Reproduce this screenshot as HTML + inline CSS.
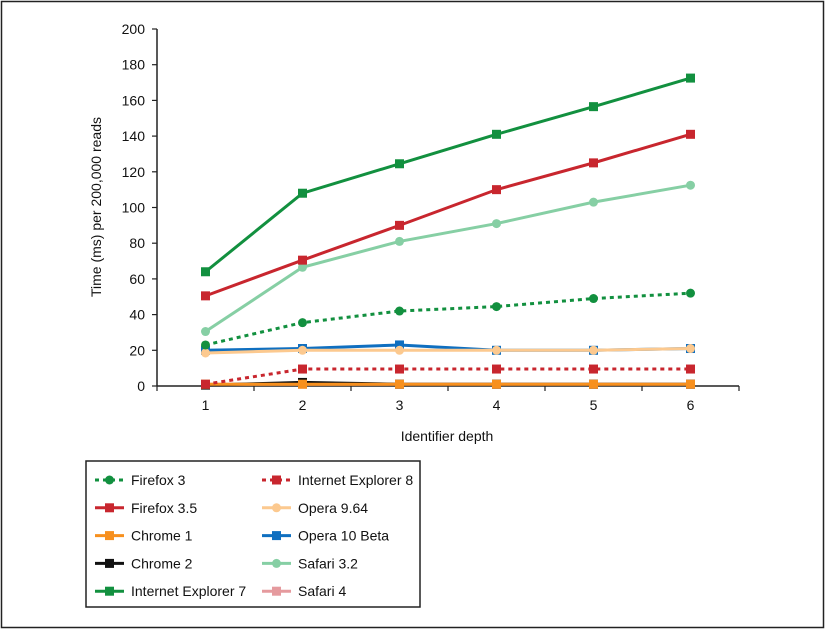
<!DOCTYPE html>
<html><head><meta charset="utf-8"><style>
html,body{margin:0;padding:0;background:#fff;}
svg text{font-family:"Liberation Sans Narrow","Liberation Sans",sans-serif;fill:#111;}
</style></head><body>
<svg id="chart" width="826" height="630" xmlns="http://www.w3.org/2000/svg">
<rect x="1.5" y="1.5" width="822" height="626" fill="none" stroke="#222" stroke-width="1.5"/>
<g id="plot"></g>
<text transform="translate(101,207) rotate(-90)" text-anchor="middle" font-size="14">Time (ms) per 200,000 reads</text>
<text x="447" y="441" text-anchor="middle" font-size="14">Identifier depth</text>
<rect x="86" y="461" width="334" height="146" fill="none" stroke="#222" stroke-width="1.5"/>
<g id="legend"></g>
</svg>
<script>
const categories = [1,2,3,4,5,6];
const yTicks = [0,20,40,60,80,100,120,140,160,180,200];
const seriesNames = ["Firefox 3","Firefox 3.5","Chrome 1","Chrome 2","Internet Explorer 7","Internet Explorer 8","Opera 9.64","Opera 10 Beta","Safari 3.2","Safari 4"];
const firefox3 = [23,35.5,42,44.5,49,52];
const firefox35 = [50.5,70.5,90,110,125,141];
const chrome1 = [1,1,1,1,1,1];
const chrome2 = [0.5,2,1,1,1,1];
const ie7 = [64,108,124.5,141,156.5,172.5];
const ie8 = [1,9.5,9.5,9.5,9.5,9.5];
const opera964 = [18.5,20,20,20,20,21];
const opera10 = [20,21,23,20,20,21];
const safari32 = [30.5,66.5,81,91,103,112.5];
const safari4 = [1,1,1,1,1,1];

const NS="http://www.w3.org/2000/svg";
const x0=157, band=97, yBase=386, yTop=29;
function xs(i){return x0+band*(i+0.5);}
function ys(v){return yBase-(v/200)*(yBase-yTop);}
function mk(tag,attrs,parent){const e=document.createElementNS(NS,tag);for(const k in attrs)e.setAttribute(k,attrs[k]);parent.appendChild(e);return e;}
const plot=document.getElementById('plot');

const styles=[
 {data:firefox3,color:"#12903f",dash:"4,4",marker:"circle"},
 {data:firefox35,color:"#c8262e",dash:"",marker:"square"},
 {data:chrome1,color:"#f7901e",dash:"",marker:"square"},
 {data:chrome2,color:"#111111",dash:"",marker:"square"},
 {data:ie7,color:"#12903f",dash:"",marker:"square"},
 {data:ie8,color:"#c8262e",dash:"4,4",marker:"square"},
 {data:opera964,color:"#fcc98f",dash:"",marker:"circle"},
 {data:opera10,color:"#0f6fc0",dash:"",marker:"square"},
 {data:safari32,color:"#86cfa4",dash:"",marker:"circle"},
 {data:safari4,color:"#e59a9e",dash:"",marker:"square"}
];
const drawOrder=[9,3,2,5,7,6,0,8,1,4];

// axes
let ax=mk('line',{x1:x0,y1:yTop,x2:x0,y2:yBase,stroke:"#222","stroke-width":1.5},plot);


let bx=mk('line',{x1:x0,y1:yBase,x2:x0+band*categories.length,y2:yBase,stroke:"#222","stroke-width":1.5},plot);


yTicks.forEach(t=>{
 const y=ys(t);
 const l=mk('line',{x1:x0-5,y1:y,x2:x0,y2:y,stroke:"#222","stroke-width":1.2},plot);
 
 
 const tx=mk('text',{x:x0-12,y:y+5,"text-anchor":"end","font-size":14},plot);
 tx.textContent=t;
 
 
});
for(let i=0;i<=categories.length;i++){
 const l=mk('line',{x1:x0+band*i,y1:yBase,x2:x0+band*i,y2:yBase+5,stroke:"#222","stroke-width":1.2},plot);
 
 
}
categories.forEach((c,i)=>{
 const tx=mk('text',{x:xs(i),y:yBase+24,"text-anchor":"middle","font-size":14},plot);
 tx.textContent=c;
 
 
});
function marker(parent,kind,x,y,color,r){
 let m;
 if(kind==="circle") m=mk('circle',{cx:x,cy:y,r:r,fill:color},parent);
 else m=mk('rect',{x:x-r,y:y-r,width:2*r,height:2*r,fill:color},parent);
 return m;
}
drawOrder.forEach(si=>{
 const s=styles[si];
 const g=mk('g',{},plot);
 
 
 const pts=s.data.map((v,i)=>xs(i)+","+ys(v)).join(" ");
 const pl=mk('polyline',{points:pts,fill:"none",stroke:s.color,"stroke-width":3,"stroke-dasharray":s.dash},g);
 
 
 s.data.forEach((v,i)=>{
  const m=marker(g,s.marker,xs(i),ys(v),s.color,4.5);
  
  
 });
});
// legend
const lg=document.getElementById('legend');
seriesNames.forEach((n,i)=>{
 const s=styles[i];
 const col=i<5?0:1, row=i%5;
 const lx=col===0?95:262, ly=480+row*27.8;
 const g=mk('g',{},lg);
 
 
 mk('line',{x1:lx,y1:ly,x2:lx+29,y2:ly,stroke:s.color,"stroke-width":3,"stroke-dasharray":s.dash},g);
 marker(g,s.marker,lx+14.5,ly,s.color,4.5);
 const t=mk('text',{x:lx+36,y:ly+5,"font-size":14},g);
 t.textContent=n;
});
</script>
</body></html>
